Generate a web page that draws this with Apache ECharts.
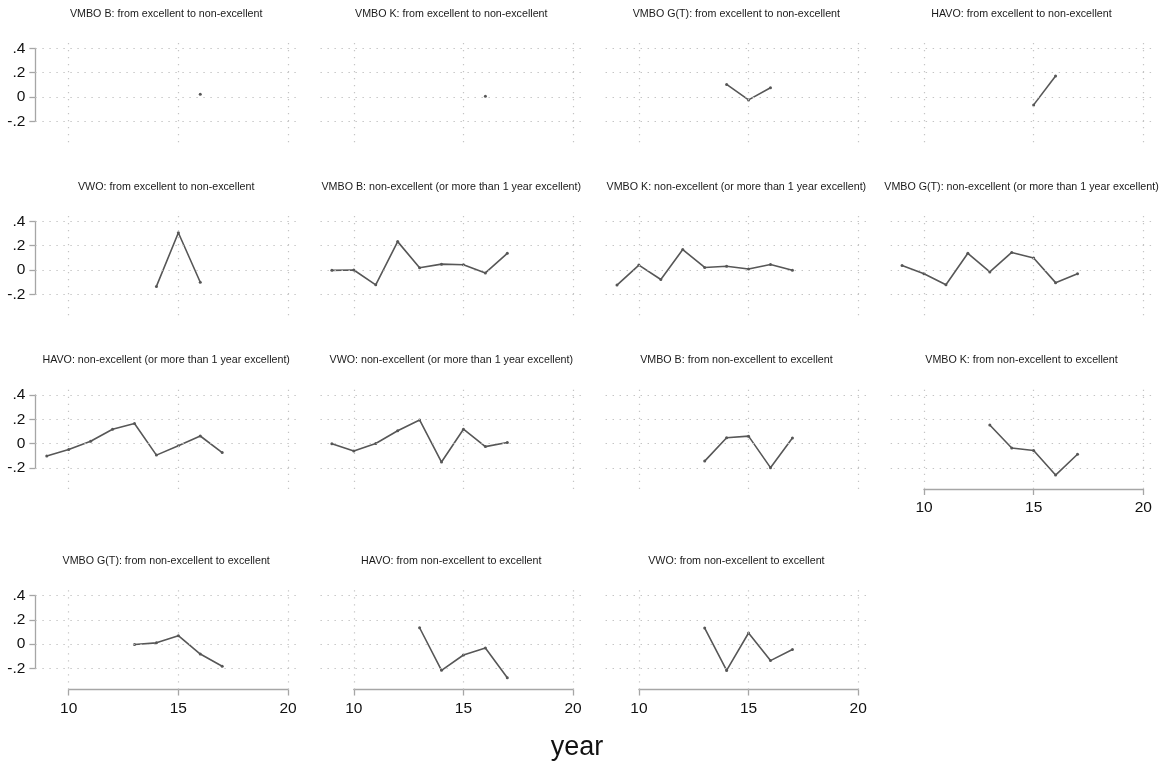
<!DOCTYPE html>
<html>
<head>
<meta charset="utf-8">
<script src="https://cdn.jsdelivr.net/npm/echarts@6/dist/echarts.min.js"></script>
<style>
  html, body { margin: 0; padding: 0; background: #ffffff; }
  #chart { width: 1176px; height: 772px; }
</style>
</head>
<body>
<div id="chart"></div>
<script>
// Years on the horizontal axis (one value per year, null = no observation)
const years = [9, 10, 11, 12, 13, 14, 15, 16, 17];

const panelTitles = [
  'VMBO B: from excellent to non-excellent',
  'VMBO K: from excellent to non-excellent',
  'VMBO G(T): from excellent to non-excellent',
  'HAVO: from excellent to non-excellent',
  'VWO: from excellent to non-excellent',
  'VMBO B: non-excellent (or more than 1 year excellent)',
  'VMBO K: non-excellent (or more than 1 year excellent)',
  'VMBO G(T): non-excellent (or more than 1 year excellent)',
  'HAVO: non-excellent (or more than 1 year excellent)',
  'VWO: non-excellent (or more than 1 year excellent)',
  'VMBO B: from non-excellent to excellent',
  'VMBO K: from non-excellent to excellent',
  'VMBO G(T): from non-excellent to excellent',
  'HAVO: from non-excellent to excellent',
  'VWO: from non-excellent to excellent'
];

// from excellent to non-excellent
const vmboBExcToNon  = [null, null, null, null, null, null, null, 0.022, null];
const vmboKExcToNon  = [null, null, null, null, null, null, null, 0.005, null];
const vmboGTExcToNon = [null, null, null, null, null, 0.103, -0.024, 0.076, null];
const havoExcToNon   = [null, null, null, null, null, null, -0.065, 0.172, null];
const vwoExcToNon    = [null, null, null, null, null, -0.135, 0.306, -0.101, null];

// non-excellent (or more than 1 year excellent)
const vmboBNonExc  = [-0.003, 0.000, -0.122, 0.233, 0.019, 0.048, 0.043, -0.024, 0.137];
const vmboKNonExc  = [-0.124, 0.040, -0.078, 0.168, 0.021, 0.031, 0.008, 0.045, -0.003];
const vmboGTNonExc = [0.036, -0.031, -0.122, 0.137, -0.016, 0.144, 0.098, -0.104, -0.031];
const havoNonExc   = [-0.101, -0.048, 0.020, 0.119, 0.166, -0.094, -0.017, 0.063, -0.073];
const vwoNonExc    = [0.000, -0.061, 0.002, 0.106, 0.195, -0.151, 0.119, -0.024, 0.009];

// from non-excellent to excellent
const vmboBNonToExc  = [null, null, null, null, -0.143, 0.049, 0.062, -0.197, 0.046];
const vmboKNonToExc  = [null, null, null, null, 0.154, -0.035, -0.056, -0.258, -0.087];
const vmboGTNonToExc = [null, null, null, null, -0.003, 0.011, 0.070, -0.081, -0.181];
const havoNonToExc   = [null, null, null, null, 0.135, -0.215, -0.089, -0.032, -0.276];
const vwoNonToExc    = [null, null, null, null, 0.132, -0.216, 0.092, -0.135, -0.043];

const xTicks = [10, 15, 20];
const yTicks = [-0.2, 0, 0.2, 0.4];
const yTickLabels = ['-.2', '0', '.2', '.4'];
const xAxisTitle = 'year';

const panelValues = [
  vmboBExcToNon, vmboKExcToNon, vmboGTExcToNon, havoExcToNon,
  vwoExcToNon, vmboBNonExc, vmboKNonExc, vmboGTNonExc,
  havoNonExc, vwoNonExc, vmboBNonToExc, vmboKNonToExc,
  vmboGTNonToExc, havoNonToExc, vwoNonToExc
];

// ---- layout of the 4x4 panel matrix ----
const FONT = "'Liberation Sans', Arial, Helvetica, sans-serif";
const COLS = 4;
const X10 = [68.7, 353.8, 638.9, 924.0];   // pixel of year 10 per column
const Y04 = [48.3, 221.3, 395.0, 595.5];   // pixel of value .4 per row
const PX_YEAR = 21.93;                     // pixels per year
const PX_UNIT = 121.7;                     // pixels per unit of value
const X_MIN = 8.48, X_MAX = 20.41;         // plot region range (years)
const Y_MIN = -0.3726, Y_MAX = 0.482;      // plot region range (values)

const LINE_COLOR = '#575757';
const AXIS_COLOR = '#a6a6a6';
const GRID_COLOR = '#c4c4c4';
const TICK_FONT = 15.5;

const grid = [], xAxis = [], yAxis = [], series = [], graphic = [];

function region(col, row) {
  const left = X10[col] - (10 - X_MIN) * PX_YEAR;
  const width = (X_MAX - X_MIN) * PX_YEAR;
  const top = Y04[row] - (Y_MAX - 0.4) * PX_UNIT;
  const height = (Y_MAX - Y_MIN) * PX_UNIT;
  return { left, width, top, height };
}

const gridMarks = yTicks.map(v => ({ yAxis: v })).concat(xTicks.map(v => ({ xAxis: v })));

panelValues.forEach((vals, i) => {
  const col = i % COLS, row = Math.floor(i / COLS);
  const r = region(col, row);
  const gi = grid.length;
  grid.push({ left: r.left, top: r.top, width: r.width, height: r.height });
  xAxis.push({ gridIndex: gi, type: 'value', min: X_MIN, max: X_MAX, show: false });
  yAxis.push({ gridIndex: gi, type: 'value', min: Y_MIN, max: Y_MAX, show: false });

  // dotted reference lines at the tick values
  series.push({
    type: 'line', xAxisIndex: gi, yAxisIndex: gi, data: [], z: 1, silent: true,
    markLine: {
      silent: true, symbol: ['none', 'none'], animation: false,
      label: { show: false },
      lineStyle: { color: GRID_COLOR, width: 1.2, type: [1.4, 5.6] },
      emphasis: { disabled: true },
      data: gridMarks
    }
  });

  const pts = [];
  years.forEach((y, k) => { if (vals[k] !== null) pts.push([y, vals[k]]); });
  series.push({
    type: 'line', xAxisIndex: gi, yAxisIndex: gi, data: pts, z: 3,
    showSymbol: true, showAllSymbol: true, symbol: 'circle', symbolSize: 3,
    itemStyle: { color: LINE_COLOR },
    lineStyle: { color: LINE_COLOR, width: 1.6 },
    emphasis: { disabled: true }, silent: true
  });

  graphic.push({
    type: 'text', x: r.left + r.width / 2, y: Y04[row] - 34.5, silent: true,
    style: { text: panelTitles[i], fill: '#1a1a1a', font: '10.7px ' + FONT,
             textAlign: 'center', textVerticalAlign: 'middle' }
  });
});

// y axes on the first column
for (let row = 0; row < 4; row++) {
  const r = region(0, row);
  const gi = grid.length;
  grid.push({ left: r.left, top: Y04[row], width: 10, height: 0.6 * PX_UNIT });
  xAxis.push({ gridIndex: gi, type: 'value', show: false });
  yAxis.push({
    gridIndex: gi, type: 'value', min: -0.2, max: 0.4, interval: 0.2, position: 'left',
    axisLine: { show: true, lineStyle: { color: AXIS_COLOR, width: 1.3 } },
    axisTick: { show: true, length: 6, lineStyle: { color: AXIS_COLOR, width: 1.3 } },
    splitLine: { show: false },
    axisLabel: {
      margin: 10, color: '#111', fontSize: TICK_FONT, fontFamily: FONT,
      formatter: v => {
        const k = yTicks.findIndex(t => Math.abs(t - v) < 1e-9);
        return k >= 0 ? yTickLabels[k] : '';
      }
    }
  });
}

// x axes under the bottom panel of each column
[[0, 3], [1, 3], [2, 3], [3, 2]].forEach(([col, row]) => {
  const r = region(col, row);
  const gi = grid.length;
  grid.push({ left: X10[col], top: r.top + r.height - 10, width: 10 * PX_YEAR, height: 10 });
  yAxis.push({ gridIndex: gi, type: 'value', show: false });
  xAxis.push({
    gridIndex: gi, type: 'value', min: 10, max: 20, interval: 5, position: 'bottom',
    axisLine: { show: true, lineStyle: { color: AXIS_COLOR, width: 1.3 } },
    axisTick: { show: true, length: 6, lineStyle: { color: AXIS_COLOR, width: 1.3 } },
    splitLine: { show: false },
    axisLabel: { margin: 11, color: '#111', fontSize: TICK_FONT, fontFamily: FONT }
  });
});

graphic.push({
  type: 'text', x: 577, y: 748, silent: true,
  style: { text: xAxisTitle, fill: '#111', font: '27px ' + FONT,
           textAlign: 'center', textVerticalAlign: 'middle' }
});

const chart = echarts.init(document.getElementById('chart'), null, { renderer: 'canvas' });
chart.setOption({
  backgroundColor: '#ffffff',
  animation: false,
  grid, xAxis, yAxis, series, graphic
});
</script>
</body>
</html>
